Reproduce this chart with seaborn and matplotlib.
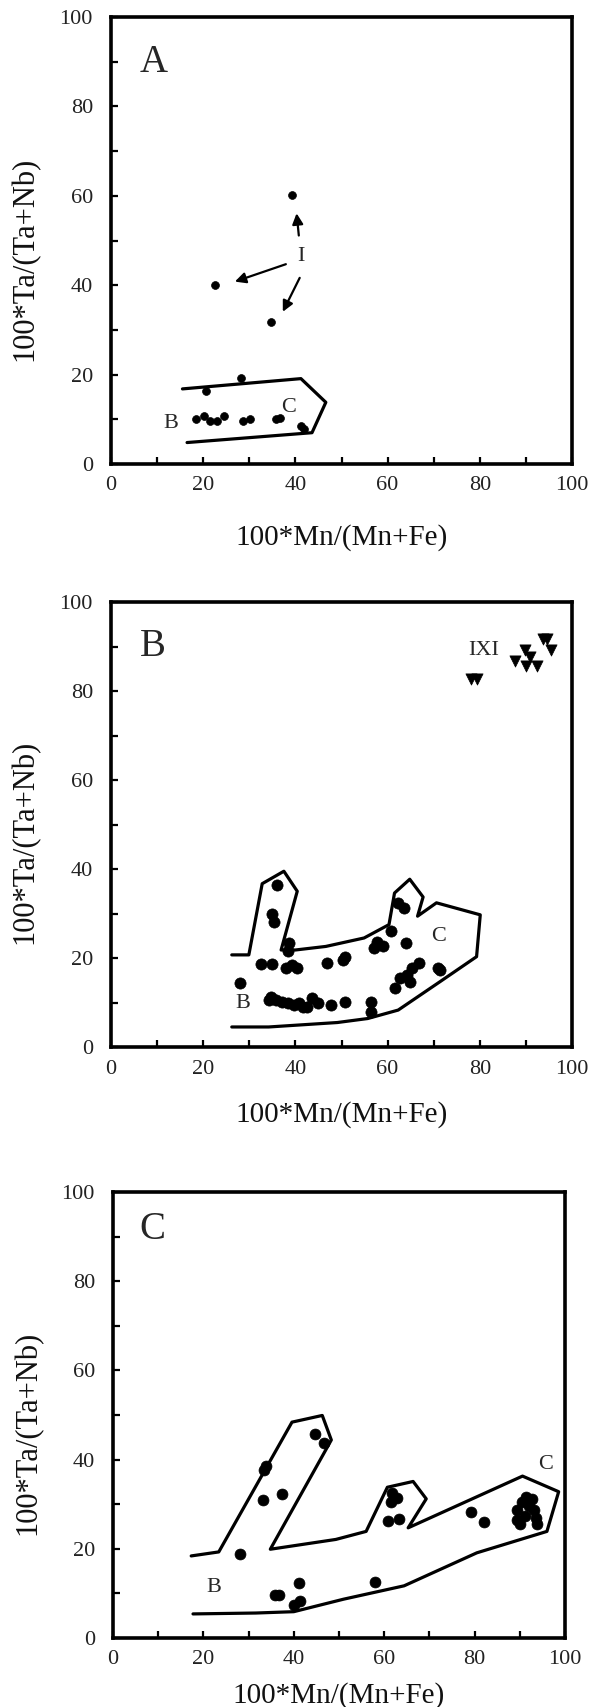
import matplotlib
matplotlib.use("Agg")
import matplotlib.pyplot as plt
import seaborn as sns
import pandas as pd

# ---------------- data ----------------
# Panel A
a_pts_x = [22.5, 34.7, 28.1, 20.7, 18.5, 20.2, 21.4, 23.0, 24.6, 28.6, 30.1, 35.9, 36.7, 41.2, 41.8, 39.3]
a_pts_y = [40.0, 31.7, 19.2, 16.4, 10.1, 10.8, 9.7, 9.7, 10.7, 9.7, 10.1, 10.1, 10.2, 8.6, 7.8, 60.1]
a_field_x = [15.5, 41.2, 46.6, 43.6, 16.5]
a_field_y = [16.8, 19.1, 13.8, 7.0, 4.8]
a_arrow_tail = [(40.8, 50.5), (38.5, 44.9), (41.2, 42.2)]
a_arrow_head = [(40.2, 56.7), (26.3, 40.6), (37.0, 33.5)]

# Panel B
b_pts_x = [28.0, 36.0, 34.9, 35.4, 32.5, 35.0, 38.7, 38.5, 37.9, 39.2, 40.4, 46.8, 50.3, 50.7,
           57.0, 57.8, 59.0, 60.8, 64.0, 62.3, 63.6, 61.5, 62.7, 64.2, 65.2, 64.8, 66.9, 71.0,
           71.4, 34.6, 35.8, 37.1, 38.3, 39.6, 40.8, 42.5, 43.7, 44.9, 47.8, 50.7, 56.4, 56.4,
           34.2, 41.6]
b_pts_y = [14.3, 36.5, 29.9, 28.2, 18.7, 18.7, 23.3, 21.5, 17.7, 18.4, 17.7, 18.8, 19.6, 20.3,
           22.2, 23.7, 22.6, 26.0, 23.3, 32.4, 31.2, 13.2, 15.4, 16.2, 17.7, 14.7, 18.8, 17.7,
           17.3, 11.3, 10.5, 10.2, 9.8, 9.4, 9.8, 9.0, 10.9, 9.8, 9.4, 10.2, 10.2, 7.9,
           10.5, 9.0]
b_tri_x = [78.1, 79.3, 87.6, 89.7, 90.9, 90.1, 92.5, 93.8, 94.6, 95.4]
b_tri_y = [82.8, 82.8, 86.8, 89.2, 87.7, 85.6, 85.6, 91.6, 91.6, 89.2]
b_field_x = [26.2, 29.9, 32.8, 37.5, 40.4, 36.9, 40.0, 46.6, 54.9, 60.3, 61.5, 64.8, 67.7, 66.5,
             70.6, 80.1, 79.3, 71.4, 62.3, 55.7, 49.1, 34.2, 26.2]
b_field_y = [20.7, 20.7, 36.7, 39.5, 35.0, 21.8, 21.8, 22.6, 24.5, 27.5, 34.6, 37.7, 33.7, 29.4,
             32.4, 29.7, 20.3, 14.7, 8.3, 6.4, 5.5, 4.5, 4.5]

# Panel C
c_pts_x = [28.1, 33.5, 33.9, 33.1, 37.3, 44.7, 46.6, 35.8, 36.8, 41.1, 41.3, 40.0, 57.9,
           61.8, 62.8, 61.5, 60.9, 63.2, 79.2, 82.0,
           89.3, 90.4, 91.4, 92.7, 90.0, 91.2, 93.1, 93.5, 93.9, 89.4, 92.0]
c_pts_y = [18.8, 37.7, 38.6, 31.0, 32.3, 45.7, 43.8, 9.7, 9.7, 12.3, 8.4, 7.4, 12.6,
           32.5, 31.4, 30.4, 26.3, 26.7, 28.2, 26.0,
           28.6, 30.4, 31.7, 31.2, 25.6, 27.3, 28.6, 26.9, 25.6, 26.5, 29.5]
c_field_x = [17.3, 23.4, 39.6, 46.3, 48.3, 34.8, 49.3, 56.0, 60.7, 66.4, 69.3, 65.3, 90.6,
             98.6, 96.0, 80.5, 64.4, 51.0, 40.0, 31.6, 17.7]
c_field_y = [18.4, 19.3, 48.4, 49.9, 44.4, 19.9, 22.1, 23.9, 33.8, 35.1, 31.2, 24.7, 36.3,
             32.8, 23.9, 19.1, 11.7, 8.7, 5.9, 5.6, 5.4]

tick_vals = [0, 20, 40, 60, 80, 100]
minor_vals = [10, 30, 50, 70, 90]
x_label = "100*Mn/(Mn+Fe)"
y_label = "100*Ta/(Ta+Nb)"

# ---------------- style ----------------
sns.set_theme(style="white")
plt.rcParams['font.family'] = ['Liberation Serif', 'DejaVu Serif']

W, H = 605, 1707
fig = plt.figure(figsize=(W / 100, H / 100), dpi=100)


def make_ax(left, right, top, bottom):
    return fig.add_axes([left / W, 1 - bottom / H, (right - left) / W, (bottom - top) / H])


axA = make_ax(111, 572, 17, 464)
axB = make_ax(111, 572, 602, 1047)
axC = make_ax(113, 565, 1192, 1638)

for ax in (axA, axB, axC):
    ax.set_xlim(0, 100)
    ax.set_ylim(0, 100)
    ax.set_xticks(tick_vals)
    ax.set_yticks(tick_vals)
    ax.set_xticks(minor_vals, minor=True)
    ax.set_yticks(minor_vals, minor=True)
    ax.tick_params(which='both', direction='in', bottom=True, left=True, top=False, right=False,
                   length=5, width=1.6, color='black')
    ax.tick_params(axis='x', which='major', labelsize=16, pad=9, labelcolor='#222222')
    ax.tick_params(axis='y', which='major', labelsize=16, pad=13, labelcolor='#222222')
    for sp in ax.spines.values():
        sp.set_visible(True)
        sp.set_color('black')
        sp.set_linewidth(2.6)


def field(ax, xs, ys):
    df = pd.DataFrame({'x': xs, 'y': ys})
    sns.lineplot(data=df, x='x', y='y', sort=False, estimator=None, color='black',
                 linewidth=2.3, ax=ax)


def dots(ax, xs, ys, s, marker='o'):
    df = pd.DataFrame({'x': xs, 'y': ys})
    sns.scatterplot(data=df, x='x', y='y', color='black', s=s, marker=marker,
                    edgecolor='black', linewidth=0.5, legend=False, ax=ax)


# Panel A
field(axA, a_field_x, a_field_y)
dots(axA, a_pts_x, a_pts_y, 32)
for t, h in zip(a_arrow_tail, a_arrow_head):
    axA.annotate("", xy=h, xytext=t,
                 arrowprops=dict(arrowstyle='-|>', color='black', lw=1.6, mutation_scale=16))
axA.text(41.2, 46.4, "I", fontsize=16, ha='center', va='center')
axA.text(12.9, 9.1, "B", fontsize=16, ha='center', va='center')
axA.text(38.5, 12.6, "C", fontsize=16, ha='center', va='center')
axA.text(9.3, 89.8, "A", fontsize=28, ha='center', va='center')

# Panel B
field(axB, b_field_x, b_field_y)
dots(axB, b_pts_x, b_pts_y, 65)
dots(axB, b_tri_x, b_tri_y, 65, marker='v')
axB.text(80.8, 89.2, "IXI", fontsize=16, ha='center', va='center')
axB.text(28.6, 9.8, "B", fontsize=16, ha='center', va='center')
axB.text(71.0, 24.8, "C", fontsize=16, ha='center', va='center')
axB.text(9.1, 90.1, "B", fontsize=28, ha='center', va='center')

# Panel C
field(axC, c_field_x, c_field_y)
dots(axC, c_pts_x, c_pts_y, 62)
axC.text(22.3, 11.4, "B", fontsize=16, ha='center', va='center')
axC.text(95.8, 38.8, "C", fontsize=16, ha='center', va='center')
axC.text(8.7, 91.5, "C", fontsize=28, ha='center', va='center')

for ax, xl_y in ((axA, -0.134), (axB, -0.121), (axC, -0.099)):
    ax.set_xlabel(x_label, fontsize=21, color='#111111')
    ax.set_ylabel(y_label, fontsize=22, color='#111111')
    ax.xaxis.set_label_coords(0.5, xl_y)
    ax.yaxis.set_label_coords(-0.155, 0.46)

fig.savefig("out.png", dpi=100, facecolor='white')
